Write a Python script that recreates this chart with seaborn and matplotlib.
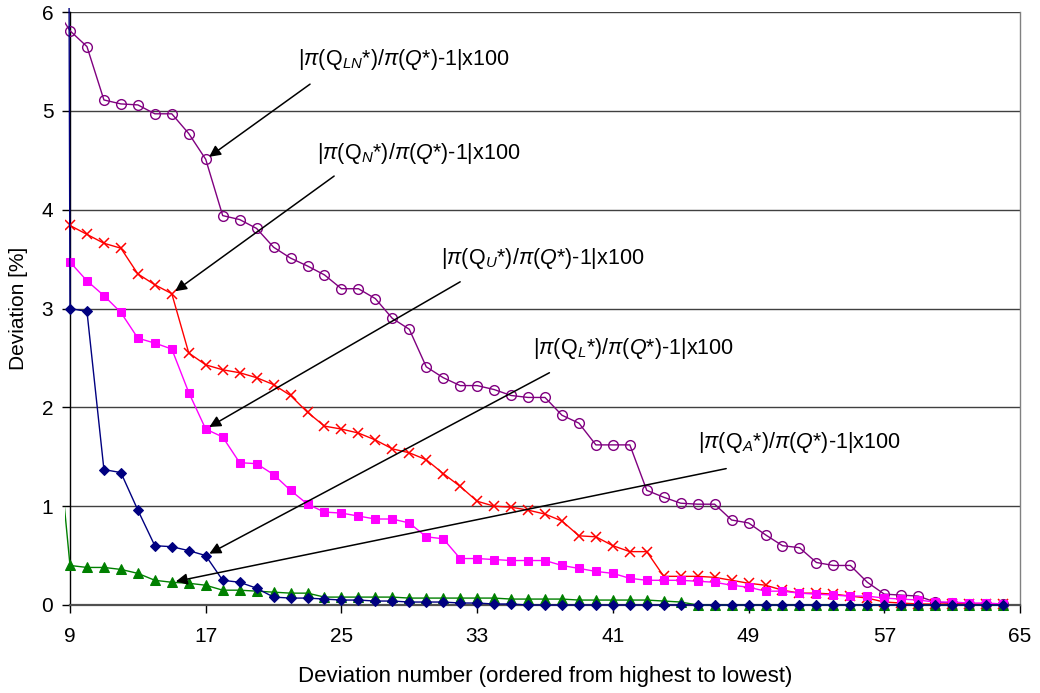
import numpy as np
import pandas as pd
import matplotlib
matplotlib.use("Agg")
import matplotlib.pyplot as plt
from matplotlib.patches import Rectangle
import seaborn as sns

# Deviation numbers (x axis shows 9..65; the first point of some series sits at 8)
dev_from8 = list(range(8, 65))
dev_from9 = list(range(9, 65))

# |pi(Q_LN*)/pi(Q*)-1| x 100
dev_LN = [6.08, 5.81, 5.65, 5.11, 5.07, 5.06, 4.97, 4.97, 4.77, 4.51, 3.94, 3.90, 3.81,
          3.62, 3.51, 3.43, 3.34, 3.20, 3.20, 3.10, 2.90, 2.79, 2.41, 2.30, 2.22, 2.22,
          2.18, 2.12, 2.10, 2.10, 1.92, 1.84, 1.62, 1.62, 1.62, 1.16, 1.09, 1.03, 1.02,
          1.02, 0.86, 0.83, 0.71, 0.60, 0.58, 0.43, 0.40, 0.40, 0.23, 0.11, 0.10, 0.09,
          0.03, 0.02, 0.01, 0.01, 0.01]

# |pi(Q_N*)/pi(Q*)-1| x 100
dev_N = [3.84, 3.75, 3.66, 3.61, 3.35, 3.24, 3.15, 2.55, 2.43, 2.38, 2.35, 2.30, 2.23,
         2.12, 1.95, 1.81, 1.78, 1.74, 1.67, 1.58, 1.54, 1.47, 1.33, 1.20, 1.05, 1.00,
         0.99, 0.96, 0.92, 0.85, 0.70, 0.69, 0.60, 0.54, 0.54, 0.29, 0.29, 0.29, 0.28,
         0.25, 0.22, 0.20, 0.15, 0.12, 0.12, 0.11, 0.09, 0.07, 0.03, 0.02, 0.01, 0.01,
         0.01, 0.01, 0.01, 0.01]

# |pi(Q_U*)/pi(Q*)-1| x 100
dev_U = [3.47, 3.28, 3.13, 2.96, 2.70, 2.65, 2.59, 2.15, 1.78, 1.70, 1.44, 1.43, 1.32,
         1.16, 1.02, 0.94, 0.93, 0.90, 0.87, 0.87, 0.83, 0.69, 0.67, 0.47, 0.47, 0.46,
         0.45, 0.45, 0.45, 0.40, 0.37, 0.34, 0.32, 0.27, 0.25, 0.25, 0.25, 0.24, 0.23,
         0.20, 0.18, 0.14, 0.14, 0.12, 0.11, 0.10, 0.09, 0.09, 0.07, 0.06, 0.05, 0.03,
         0.03, 0.02, 0.02, 0.01]

# |pi(Q_L*)/pi(Q*)-1| x 100
dev_L = [60.0, 3.00, 2.97, 1.37, 1.34, 0.96, 0.60, 0.59, 0.55, 0.50, 0.25, 0.23, 0.17,
         0.08, 0.07, 0.07, 0.06, 0.05, 0.05, 0.04, 0.04, 0.03, 0.03, 0.03, 0.02, 0.02,
         0.01, 0.01, 0.00, 0.00, 0.00, 0.00, 0.00, 0.00, 0.00, 0.00, 0.00, 0.00, 0.00,
         0.00, 0.00, 0.00, 0.00, 0.00, 0.00, 0.00, 0.00, 0.00, 0.00, 0.00, 0.00, 0.00,
         0.00, 0.00, 0.00, 0.00, 0.00]

# |pi(Q_A*)/pi(Q*)-1| x 100
dev_A = [2.20, 0.40, 0.38, 0.38, 0.36, 0.32, 0.25, 0.23, 0.22, 0.20, 0.15, 0.15, 0.14,
         0.13, 0.12, 0.12, 0.08, 0.08, 0.08, 0.08, 0.08, 0.07, 0.07, 0.07, 0.07, 0.07,
         0.07, 0.06, 0.06, 0.06, 0.06, 0.05, 0.05, 0.05, 0.05, 0.05, 0.04, 0.03, 0.00,
         0.00, 0.00, 0.00, 0.00, 0.00, 0.00, 0.00, 0.00, 0.00, 0.00, 0.00, 0.00, 0.00,
         0.00, 0.00, 0.00, 0.00, 0.00]

x_ticks = [9, 17, 25, 33, 41, 49, 57, 65]
y_ticks = [0, 1, 2, 3, 4, 5, 6]

labels = {
    "LN": r"$|\pi(\mathrm{Q}_{LN}\text{*})/\pi(Q\text{*})\text{-1|x100}$",
    "N": r"$|\pi(\mathrm{Q}_{N}\text{*})/\pi(Q\text{*})\text{-1|x100}$",
    "U": r"$|\pi(\mathrm{Q}_{U}\text{*})/\pi(Q\text{*})\text{-1|x100}$",
    "L": r"$|\pi(\mathrm{Q}_{L}\text{*})/\pi(Q\text{*})\text{-1|x100}$",
    "A": r"$|\pi(\mathrm{Q}_{A}\text{*})/\pi(Q\text{*})\text{-1|x100}$",
}

sns.set_theme(style="white")
plt.rcParams["font.family"] = ["Liberation Sans", "DejaVu Sans"]
plt.rcParams["mathtext.fontset"] = "custom"
plt.rcParams["mathtext.rm"] = "Liberation Sans"
plt.rcParams["mathtext.it"] = "Liberation Sans:italic"
plt.rcParams["mathtext.bf"] = "Liberation Sans:bold"

W, H = 1040, 693
fig = plt.figure(figsize=(W / 100, H / 100), dpi=100)
ax = fig.add_axes([70 / W, 1 - 605 / H, 950 / W, 593 / H])

series = [
    ("LN", dev_from8, dev_LN, dict(color="#800080", marker="o", markersize=7,
                                   markerfacecolor="none", markeredgecolor="#800080",
                                   markeredgewidth=1.0)),
    ("N", dev_from9, dev_N, dict(color="#FF0000", marker="x", markersize=7.5,
                                 markeredgecolor="#FF0000", markeredgewidth=1.1)),
    ("U", dev_from9, dev_U, dict(color="#FF00FF", marker="s", markersize=6,
                                 markerfacecolor="#FF00FF", markeredgecolor="#FF00FF")),
    ("A", dev_from8, dev_A, dict(color="#008000", marker="^", markersize=7,
                                 markerfacecolor="#008000", markeredgecolor="#008000")),
    ("L", dev_from8, dev_L, dict(color="#000080", marker="D", markersize=5,
                                 markerfacecolor="#000080", markeredgecolor="#000080")),
]

# Lines are clipped to a box a few pixels wider than the plot area
clip_rect = Rectangle((-5 / 950, -0.01), 1 + 5 / 950, 1.01 + 4 / 593,
                      transform=ax.transAxes, visible=False)
ax.add_patch(clip_rect)

for key, xs, ys, style in series:
    n_before = len(ax.lines)
    df = pd.DataFrame({"n": xs, "dev": ys})
    sns.lineplot(data=df, x="n", y="dev", ax=ax, linewidth=1.0, sort=False,
                 estimator=None, zorder=3, **style)
    for ln in ax.lines[n_before:]:
        ln.set_clip_path(clip_rect)

ax.set_xlim(9, 65)
ax.set_ylim(0, 6)
ax.set_xticks(x_ticks)
ax.set_yticks(y_ticks)
ax.set_xticklabels([str(t) for t in x_ticks])
ax.set_yticklabels([str(t) for t in y_ticks])

ax.grid(False)
for yv in y_ticks[1:]:
    ax.axhline(yv, color="#404040", linewidth=1.0, zorder=1)

ax.tick_params(axis="both", which="major", direction="out", length=6, width=1,
               color="black", labelsize=15, labelcolor="black")
ax.tick_params(axis="x", pad=10, bottom=True)
ax.tick_params(axis="y", pad=6, left=True)

for side in ["top", "right"]:
    ax.spines[side].set_color("#808080")
    ax.spines[side].set_linewidth(1.0)
ax.spines["top"].set_visible(False)
ax.spines["left"].set_color("black")
ax.spines["left"].set_linewidth(1.0)
ax.spines["bottom"].set_color("#505050")
ax.spines["bottom"].set_linewidth(1.6)

ax.set_xlabel("Deviation number (ordered from highest to lowest)", fontsize=16,
              color="black", labelpad=14)
ax.set_ylabel("Deviation [%]", fontsize=15, color="black", labelpad=10)

# Callout labels: (label key, text anchor, arrow tail, target point index)
callouts = [
    ("LN", (22.44, 5.52), (23.15, 5.27), dev_from8, dev_LN, 17),
    ("N", (23.56, 4.57), (24.57, 4.34), dev_from9, dev_N, 15),
    ("U", (30.87, 3.51), (32.0, 3.27), dev_from9, dev_U, 17),
    ("L", (36.30, 2.60), (37.26, 2.35), dev_from8, dev_L, 17),
    ("A", (46.03, 1.64), (47.68, 1.38), dev_from8, dev_A, 15),
]
for key, txt_pos, tail, xs, ys, target in callouts:
    tip = (target, ys[xs.index(target)])
    ax.annotate("", xy=tip, xytext=tail,
                arrowprops=dict(arrowstyle="-|>", color="black", lw=1.1,
                                mutation_scale=17, shrinkA=0, shrinkB=3),
                zorder=4)
    ax.text(txt_pos[0], txt_pos[1], labels[key], fontsize=15.5, color="black",
            ha="left", va="center", zorder=5)

fig.savefig("out.png", dpi=100)
